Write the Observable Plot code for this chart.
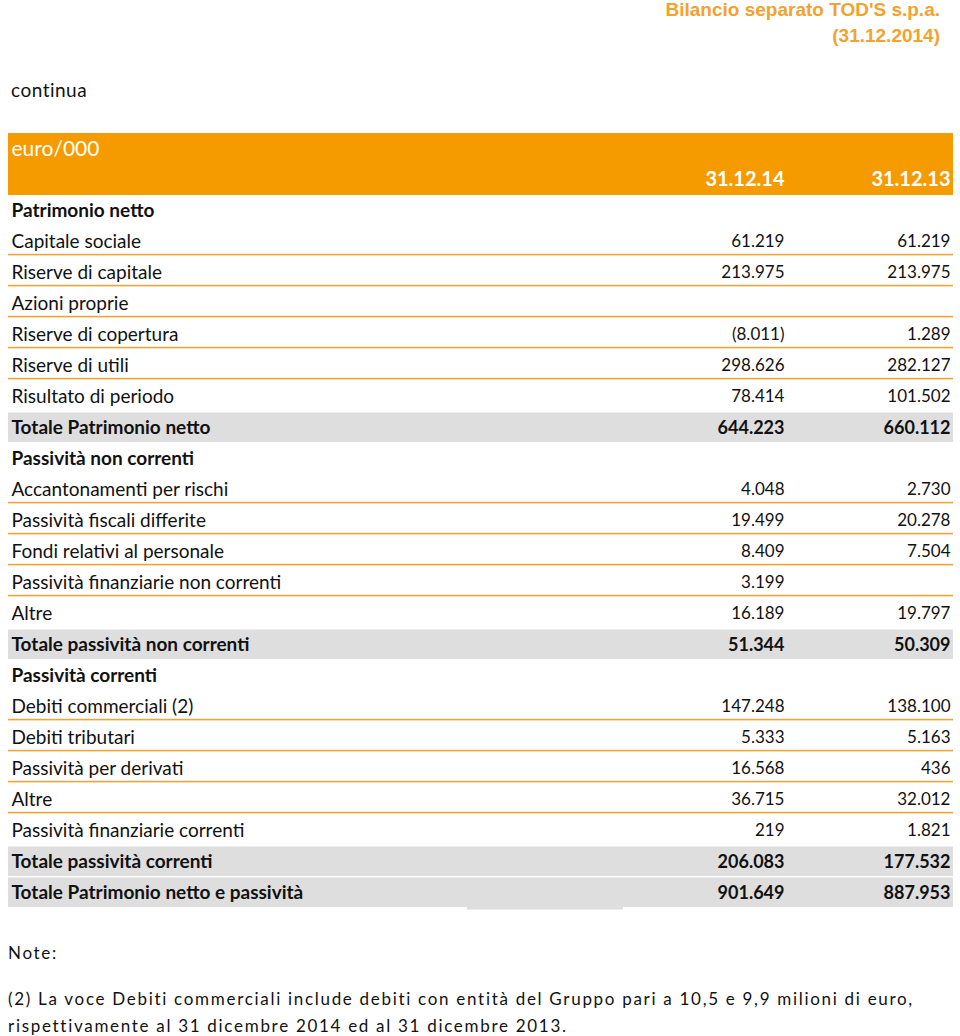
<!DOCTYPE html>
<html>
<head>
<meta charset="utf-8">
<script src="https://cdn.jsdelivr.net/npm/d3@7"></script>
<script src="https://cdn.jsdelivr.net/npm/@observablehq/plot@0.6"></script>
<style>
  html, body { margin: 0; padding: 0; background: #fff; }
  body { position: relative; width: 960px; height: 1036px; overflow: hidden; font-family: Lato, "Open Sans", sans-serif; }
  .title { position: absolute; right: 20px; top: -3px; text-align: right; color: #f4a12e; font-family: "Liberation Sans Narrow", "Liberation Sans", Arial, sans-serif; font-weight: bold; font-size: 19px; line-height: 26px; }
  .continua { position: absolute; left: 11px; top: 78px; font-size: 19px; letter-spacing: 0.5px; color: #111; }
  #chart { position: absolute; left: 0; top: 120px; }
  .note { position: absolute; left: 8px; font-size: 17px; color: #111; letter-spacing: 1.7px; }
</style>
</head>
<body>
<div class="title">Bilancio separato TOD'S s.p.a.<br>(31.12.2014)</div>
<div class="continua">continua</div>
<div id="chart"></div>
<div class="note" style="top:942px">Note:</div>
<div class="note" style="top:988px">(2) La voce Debiti commerciali include debiti con entità del Gruppo pari a 10,5 e 9,9 milioni di euro,</div>
<div class="note" style="top:1015px">rispettivamente al 31 dicembre 2014 ed al 31 dicembre 2013.</div>
<script>
const unitLabel = "euro/000";
const periods = ["31.12.14", "31.12.13"];
const labels = [
  "Patrimonio netto", "Capitale sociale", "Riserve di capitale", "Azioni proprie",
  "Riserve di copertura", "Riserve di utili", "Risultato di periodo", "Totale Patrimonio netto",
  "Passività non correnti", "Accantonamenti per rischi", "Passività fiscali differite",
  "Fondi relativi al personale", "Passività finanziarie non correnti", "Altre",
  "Totale passività non correnti", "Passività correnti", "Debiti commerciali (2)",
  "Debiti tributari", "Passività per derivati", "Altre", "Passività finanziarie correnti",
  "Totale passività correnti", "Totale Patrimonio netto e passività"
];
const values2014 = [null, 61219, 213975, null, -8011, 298626, 78414, 644223,
  null, 4048, 19499, 8409, 3199, 16189, 51344,
  null, 147248, 5333, 16568, 36715, 219, 206083, 901649];
const values2013 = [null, 61219, 213975, null, 1289, 282127, 101502, 660112,
  null, 2730, 20278, 7504, null, 19797, 50309,
  null, 138100, 5163, 436, 32012, 1821, 177532, 887953];
const rowKinds = ["section", "item", "item", "item", "item", "item", "item", "total",
  "section", "item", "item", "item", "item", "item", "total",
  "section", "item", "item", "item", "item", "item", "total", "total"];

const it = d3.formatLocale({decimal: ",", thousands: ".", grouping: [3], currency: ["", " €"]});
const fmt = it.format("(,d");

const rows = labels.map((label, i) => ({
  id: "r" + i, label, kind: rowKinds[i],
  v14: values2014[i], v13: values2013[i],
  line: rowKinds[i] === "item" && rowKinds[i + 1] === "item"
}));
const headerRows = ["h1", "h2"];
const yDomain = [...headerRows, ...rows.map(d => d.id)];

const L = 8, R = 953, xLabel = 11, x14 = 784, x13 = 950;
const font = "Lato, 'Open Sans', sans-serif";

const items = rows.filter(d => d.kind === "item");
const bolds = rows.filter(d => d.kind !== "item");
const totals = rows.filter(d => d.kind === "total");
const lastRow = rows[rows.length - 1];

function valueMarks(key, x) {
  return [
    Plot.text(items.filter(d => d[key] != null), {x, y: "id", text: d => fmt(d[key]), textAnchor: "end", fill: "#111", fontSize: 17}),
    Plot.text(totals.filter(d => d[key] != null), {x, y: "id", text: d => fmt(d[key]), textAnchor: "end", fill: "#111", fontSize: 18, fontWeight: "bold"})
  ];
}

const chart = Plot.plot({
  width: 960,
  height: 800,
  margin: 0,
  style: {fontFamily: font, background: "transparent"},
  x: {type: "linear", domain: [0, 960], range: [0, 960], axis: null},
  y: {type: "band", domain: yDomain, range: [9, 792], padding: 0, axis: null},
  marks: [
    Plot.barX(headerRows, {x1: L, x2: R, y: d => d, fill: "#f59b00"}),
    Plot.barX(totals, {x1: L, x2: R, y: "id", fill: "#dedede", insetTop: 0.5, insetBottom: 1}),
    Plot.barX([lastRow], {x1: 467, x2: 623, y: "id", fill: "#dedede", insetTop: 20, insetBottom: -1.5}),
    Plot.barX(rows.filter(d => d.line), {x1: L, x2: R, y: "id", fill: "#eda53a", insetTop: 27.8, insetBottom: 1.6}),
    Plot.text([unitLabel], {x: xLabel, y: () => "h1", text: d => d, textAnchor: "start", fill: "white", fontSize: 21}),
    Plot.text([periods[0]], {x: x14, y: () => "h2", text: d => d, textAnchor: "end", fill: "white", fontSize: 20, fontWeight: "bold"}),
    Plot.text([periods[1]], {x: x13, y: () => "h2", text: d => d, textAnchor: "end", fill: "white", fontSize: 20, fontWeight: "bold"}),
    Plot.text(items, {x: xLabel, y: "id", text: "label", textAnchor: "start", fill: "#111", fontSize: 19, ariaLabel: "item-labels"}),
    Plot.text(bolds, {x: xLabel, y: "id", text: "label", textAnchor: "start", fill: "#111", fontSize: 19, fontWeight: "bold"}),
    ...valueMarks("v14", x14),
    ...valueMarks("v13", x13)
  ]
});
d3.select(chart).selectAll('g[aria-label="item-labels"]').style("letter-spacing", "0.5px");
document.getElementById("chart").appendChild(chart);
</script>
</body>
</html>
